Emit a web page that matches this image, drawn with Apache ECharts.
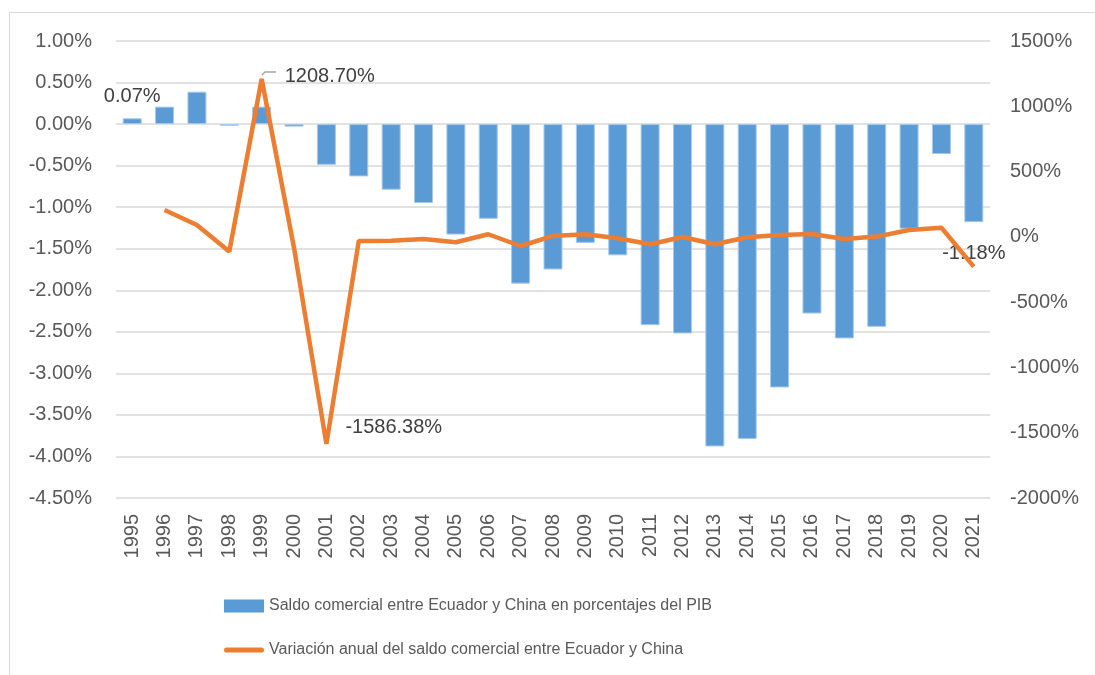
<!DOCTYPE html>
<html>
<head>
<meta charset="utf-8">
<script src="https://cdn.jsdelivr.net/npm/echarts@6/dist/echarts.min.js"></script>
<style>
  html, body { margin: 0; padding: 0; background: #fff; }
  #main { width: 1095px; height: 675px; }
</style>
</head>
<body>
<div id="main"></div>
<script>
// datos
var years = ['1995', '1996', '1997', '1998', '1999', '2000', '2001', '2002', '2003',
    '2004', '2005', '2006', '2007', '2008', '2009', '2010', '2011', '2012', '2013',
    '2014', '2015', '2016', '2017', '2018', '2019', '2020', '2021'];
// saldo comercial en % del PIB
var saldoPib = [0.07, 0.21, 0.39, -0.02, 0.21, -0.03, -0.49, -0.63, -0.79,
    -0.95, -1.33, -1.14, -1.92, -1.75, -1.43, -1.58, -2.42, -2.52, -3.88,
    -3.79, -3.17, -2.28, -2.58, -2.44, -1.26, -0.36, -1.18];
// variación anual en %
var variacion = [null, 206, 91, -113, 1208.70, -85, -1586.38, -31, -29,
    -16, -41, 20, -70, 7, 20, -11, -57, -1, -57,
    -3, 15, 22, -16, 2, 53, 70, -228];
var leftTicks = { min: -4.5, max: 1, step: 0.5 };
var rightTicks = { min: -2000, max: 1500, step: 500 };

var FONT = 'Liberation Sans';
var TXT = '#595959';
var serieBarra = 'Saldo comercial entre Ecuador y China en porcentajes del PIB';
var serieLinea = 'Variación anual del saldo comercial entre Ecuador y China';

var myChart = echarts.init(document.getElementById('main'));

// etiquetas de datos solo en algunos puntos
var barData = saldoPib.map(function (v, i) {
    if (i === 0) {
        return { value: v, label: { show: true, position: 'top', distance: 12, formatter: '0.07%' } };
    }
    if (i === saldoPib.length - 1) {
        return { value: v, label: { show: true, position: 'bottom', distance: 21, formatter: '-1.18%' } };
    }
    return v;
});
var lineData = variacion.map(function (v, i) {
    if (i === 4) {
        return { value: v, label: { show: true, position: 'right', distance: 23, offset: [0, -3], formatter: '1208.70%' } };
    }
    if (i === 6) {
        return { value: v, label: { show: true, position: 'right', distance: 19, offset: [0, -17], formatter: '-1586.38%' } };
    }
    return v;
});

var option = {
    animation: false,
    textStyle: { fontFamily: FONT },
    graphic: [
        {
            type: 'rect',
            shape: { x: 9.5, y: 12.5, width: 1100, height: 700 },
            style: { fill: 'none', stroke: '#d9d9d9', lineWidth: 1 },
            silent: true
        },
        {
            // guía de la etiqueta 1208.70%
            type: 'polyline',
            shape: { points: [[262, 75], [265, 72], [276, 72]] },
            style: { stroke: '#a6a6a6', lineWidth: 1.5, fill: 'none' },
            z: 10
        }
    ],
    grid: {
        left: 116,
        right: 105,
        top: 41,
        bottom: 177
    },
    legend: {
        orient: 'vertical',
        left: 219,
        top: 593,
        itemGap: 28,
        itemWidth: 40,
        itemHeight: 13,
        textStyle: { color: TXT, fontSize: 16 },
        data: [
            { name: serieBarra, icon: 'rect', itemStyle: { borderWidth: 0 } },
            { name: serieLinea, icon: 'path://M2.5,0 L37.5,0 A2.5,2.5 0 0 1 37.5,5 L2.5,5 A2.5,2.5 0 0 1 2.5,0 Z' }
        ]
    },
    xAxis: {
        type: 'category',
        data: years,
        axisLine: { show: false },
        axisTick: { show: false },
        axisLabel: {
            rotate: 90,
            margin: 16,
            color: TXT,
            fontSize: 20
        }
    },
    yAxis: [
        {
            type: 'value',
            min: leftTicks.min,
            max: leftTicks.max,
            interval: leftTicks.step,
            axisLine: { show: false },
            axisTick: { show: false },
            axisLabel: {
                margin: 24,
                color: TXT,
                fontSize: 20,
                formatter: function (v) { return v.toFixed(2) + '%'; }
            },
            splitLine: { lineStyle: { color: '#d9d9d9', width: 1.5 } }
        },
        {
            type: 'value',
            min: rightTicks.min,
            max: rightTicks.max,
            interval: rightTicks.step,
            axisLine: { show: false },
            axisTick: { show: false },
            axisLabel: {
                margin: 20,
                color: TXT,
                fontSize: 20,
                formatter: function (v) { return v + '%'; }
            },
            splitLine: { show: false }
        }
    ],
    series: [
        {
            name: serieBarra,
            type: 'bar',
            yAxisIndex: 0,
            barWidth: 19,
            itemStyle: { color: '#5b9bd5', borderColor: '#a9c9ea', borderWidth: 1 },
            label: { color: '#404040', fontSize: 20 },
            data: barData
        },
        {
            name: serieLinea,
            type: 'line',
            yAxisIndex: 1,
            symbol: 'circle',
            symbolSize: 0,
            showSymbol: true,
            lineStyle: { color: '#ed7d31', width: 4.5 },
            itemStyle: { color: '#ed7d31' },
            label: { color: '#404040', fontSize: 20 },
            data: lineData,
            z: 3
        }
    ]
};
myChart.setOption(option);
window.addEventListener('resize', function () {
    myChart.resize();
});
</script>
</body>
</html>
